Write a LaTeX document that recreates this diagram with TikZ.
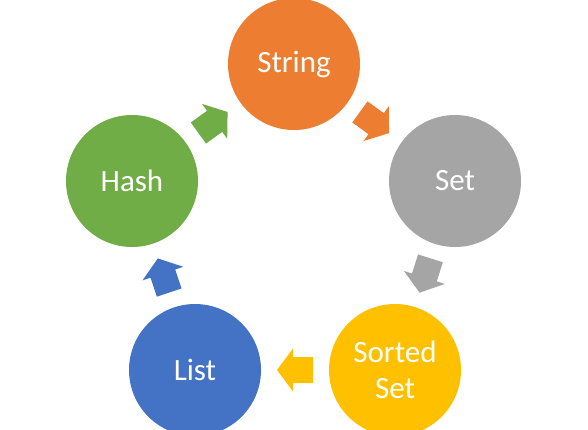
\documentclass[tikz,border=0pt]{standalone}
\usepackage{fontspec}
\setmainfont{Carlito}
\usetikzlibrary{calc}
\definecolor{cOrange}{HTML}{ED7D31}
\definecolor{cGray}{HTML}{A5A5A5}
\definecolor{cYellow}{HTML}{FFC000}
\definecolor{cBlue}{HTML}{4472C4}
\definecolor{cGreen}{HTML}{70AD47}
\tikzset{
  ball/.style={circle, minimum size=132pt, inner sep=0pt, text=white,
    font=\fontsize{31}{36}\selectfont, align=center},
}
\newcommand\blockarrow[3]{%
  \path[fill=#3] let \p1=($(#2)-(#1)$), \n1={atan2(\y1,\x1)} in
    [shift={($(#1)!0.5!(#2)$)}, rotate=\n1]
    (-18,-13) -- (2,-13) -- (2,-21.5) -- (18,0) -- (2,21.5) -- (2,13) -- (-18,13) -- cycle;}
\begin{document}
\begin{tikzpicture}[x=1pt,y=-1pt]
\useasboundingbox (0,0) rectangle (588,429);
\node[ball, fill=cOrange] (str) at (294,64) {String};
\node[ball, fill=cGray] (set) at (455,181) {Set};
\node[ball, fill=cYellow] (sset) at (395,370) {Sorted\\Set};
\node[ball, fill=cBlue] (list) at (195,370) {List};
\node[ball, fill=cGreen] (hash) at (132,181) {Hash};
\blockarrow{hash}{str}{cGreen}
\blockarrow{str}{set}{cOrange}
\blockarrow{set}{sset}{cGray}
\blockarrow{sset}{list}{cYellow}
\blockarrow{list}{hash}{cBlue}
\end{tikzpicture}
\end{document}
